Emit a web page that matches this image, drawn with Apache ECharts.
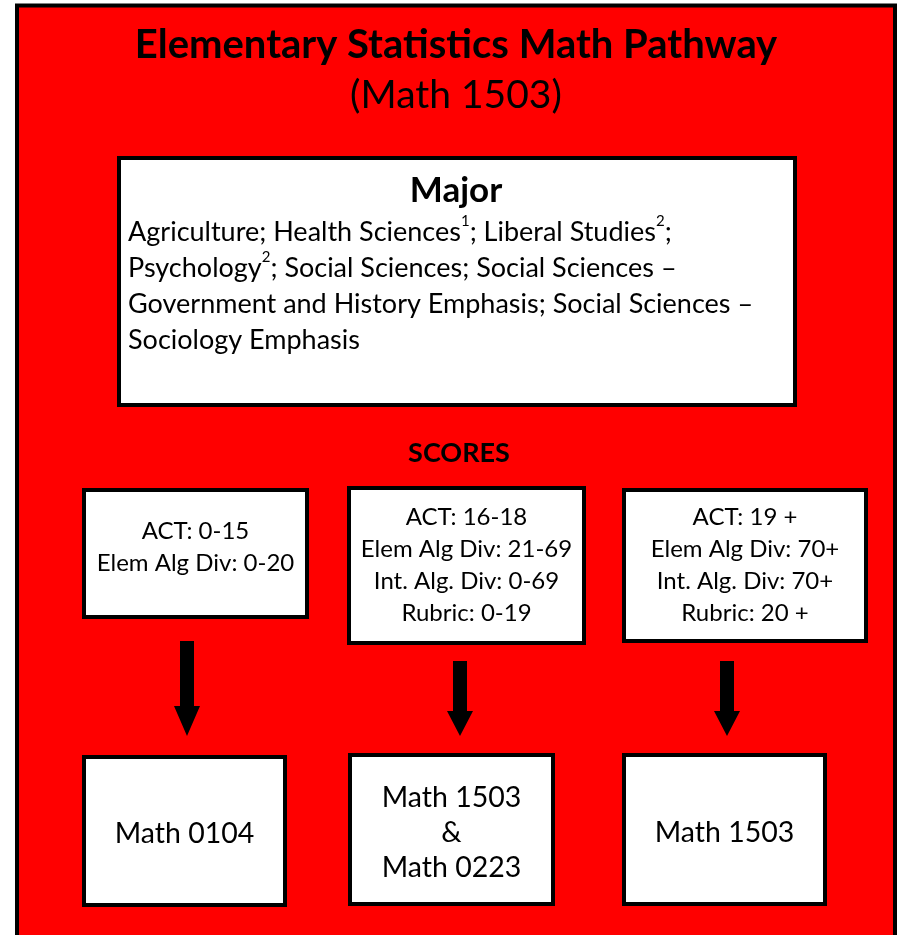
<!DOCTYPE html>
<html>
<head>
<meta charset="utf-8">
<script src="https://cdn.jsdelivr.net/npm/echarts@6/dist/echarts.min.js"></script>
<style>
  html, body { margin: 0; padding: 0; background: #fff; }
  #chart { width: 898px; height: 935px; }
</style>
</head>
<body>
<div id="chart"></div>
<script>
// text content
const titleText = 'Elementary Statistics Math Pathway';
const subtitleText = '(Math 1503)';
const majorHeading = 'Major';
const majorLines = [
  'Agriculture; Health Sciences{sup|1}; Liberal Studies{sup|2};',
  'Psychology{sup|2}; Social Sciences; Social Sciences –',
  'Government and History Emphasis; Social Sciences –',
  'Sociology Emphasis'
];
const scoresHeading = 'SCORES';
const scoreRanges = [
  ['ACT: 0-15', 'Elem Alg Div: 0-20'],
  ['ACT: 16-18', 'Elem Alg Div: 21-69', 'Int. Alg. Div: 0-69', 'Rubric: 0-19'],
  ['ACT: 19 +', 'Elem Alg Div: 70+', 'Int. Alg. Div: 70+', 'Rubric: 20 +']
];
const courses = [
  ['Math 0104'],
  ['Math 1503', '&', 'Math 0223'],
  ['Math 1503']
];

// layout (outer edges of each box: x, y, w, h)
const FONT = 'Lato, "Open Sans", sans-serif';
const majorBox = [117, 156, 680, 251];
const scoreBoxes = [[82, 488, 227, 131], [347, 486, 239, 159], [622, 488, 246, 155]];
const scoreTextY = [547, 565, 565];
const courseBoxes = [[82, 755, 205, 152], [348, 753, 207, 153], [622, 753, 205, 153]];
// arrow: center x, shaft top, head top, tip
const arrows = [[187, 641, 706, 736], [460, 661, 711, 736], [727, 661, 711, 736]];

function box(b) {
  return {
    type: 'rect',
    shape: { x: b[0] + 2, y: b[1] + 2, width: b[2] - 4, height: b[3] - 4 },
    style: { fill: '#fff', stroke: '#000', lineWidth: 4 }
  };
}

function centerText(lines, cx, cy, size, lh) {
  return {
    type: 'text',
    x: cx, y: cy,
    style: {
      text: lines.join('\n'),
      fontFamily: FONT, fontSize: size, fill: '#000',
      align: 'center', verticalAlign: 'middle', lineHeight: lh
    }
  };
}

function arrow(a) {
  const [cx, top, head, tip] = a;
  return {
    type: 'polygon',
    shape: {
      points: [
        [cx - 7, top], [cx + 7, top], [cx + 7, head], [cx + 13, head],
        [cx, tip], [cx - 13, head], [cx - 7, head]
      ]
    },
    style: { fill: '#000' }
  };
}

const elements = [];
elements.push({
  type: 'rect',
  shape: { x: 17, y: 5.5, width: 878, height: 960 },
  style: { fill: '#ff0000', stroke: '#000', lineWidth: 4 }
});
elements.push({
  type: 'text', x: 456, y: 45,
  style: { text: titleText, fontFamily: FONT, fontWeight: 'bold', fontSize: 40, fill: '#000', align: 'center', verticalAlign: 'middle' }
});
elements.push({
  type: 'text', x: 456, y: 95,
  style: { text: subtitleText, fontFamily: FONT, fontSize: 39, fill: '#000', align: 'center', verticalAlign: 'middle' }
});
elements.push(box(majorBox));
elements.push({
  type: 'text', x: 456, y: 191,
  style: { text: majorHeading, fontFamily: FONT, fontWeight: 'bold', fontSize: 35, fill: '#000', align: 'center', verticalAlign: 'middle' }
});
elements.push({
  type: 'text', x: 128, y: 214,
  style: {
    text: majorLines.join('\n'),
    fontFamily: FONT, fontSize: 27, fill: '#000', lineHeight: 36,
    align: 'left', verticalAlign: 'top',
    rich: { sup: { fontFamily: FONT, fontSize: 15, lineHeight: 24, verticalAlign: 'top', fill: '#000' } }
  }
});
elements.push({
  type: 'text', x: 459, y: 453,
  style: { text: scoresHeading, fontFamily: FONT, fontWeight: 'bold', fontSize: 27, fill: '#000', align: 'center', verticalAlign: 'middle' }
});
scoreBoxes.forEach((b, i) => {
  elements.push(box(b));
  elements.push(centerText(scoreRanges[i], b[0] + b[2] / 2, scoreTextY[i], 24, 32));
});
arrows.forEach(a => elements.push(arrow(a)));
courseBoxes.forEach((b, i) => {
  elements.push(box(b));
  elements.push(centerText(courses[i], b[0] + b[2] / 2, b[1] + b[3] / 2 + 3, 28.5, 35));
});

const chart = echarts.init(document.getElementById('chart'), null, { renderer: 'canvas' });
chart.setOption({
  backgroundColor: '#fff',
  animation: false,
  graphic: { elements: elements }
});
</script>
</body>
</html>
